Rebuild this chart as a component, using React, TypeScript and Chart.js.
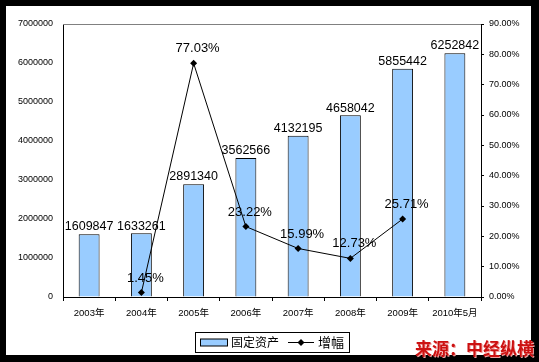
import { useEffect, useRef } from 'react';
import { Chart, registerables } from 'chart.js';
Chart.register(...registerables);

const categories = ['2003年', '2004年', '2005年', '2006年', '2007年', '2008年', '2009年', '2010年5月'];
const fixedAssets = [1609847, 1633261, 2891340, 3562566, 4132195, 4658042, 5855442, 6252842];
const growthPct = [null, 1.45, 77.03, 23.22, 15.99, 12.73, 25.71, null];
const leftMax = 7000000;
const leftStep = 1000000;
const rightMax = 90;
const rightStep = 10;
const seriesNames = ['固定资产', '增幅'];
const sourceText = '来源：中经纵横';

const FONT = '"Liberation Sans", Arial, "Noto Sans CJK SC", sans-serif';
const CJK = '"Noto Sans CJK SC", "Liberation Sans", sans-serif';
const BAR_FILL = '#99CCFF';

const framePlugin = {
  id: 'frame',
  beforeDraw(chart: any) {
    const { ctx, width, height } = chart;
    ctx.save();
    ctx.fillStyle = '#000';
    ctx.fillRect(0, 0, width, height);
    ctx.fillStyle = '#fff';
    ctx.fillRect(6, 6, 525, 349);
    ctx.restore();
  },
  afterDraw(chart: any) {
    const { ctx, chartArea } = chart;
    ctx.save();
    ctx.strokeStyle = '#808080';
    ctx.lineWidth = 1;
    ctx.beginPath();
    ctx.moveTo(chartArea.left, chartArea.top + 0.5);
    ctx.lineTo(chartArea.right, chartArea.top + 0.5);
    ctx.stroke();

    const lx = 195.5, ly = 332.5, lw = 154, lh = 20;
    ctx.fillStyle = '#fff';
    ctx.fillRect(lx, ly, lw, lh);
    ctx.strokeStyle = '#000';
    ctx.strokeRect(lx, ly, lw, lh);
    const cy = ly + lh / 2;
    ctx.fillStyle = BAR_FILL;
    ctx.fillRect(200.5, cy - 3.5, 27, 7);
    ctx.strokeRect(200.5, cy - 3.5, 27, 7);
    ctx.fillStyle = '#000';
    ctx.font = '12px ' + CJK;
    ctx.textBaseline = 'middle';
    ctx.textAlign = 'left';
    ctx.fillText(seriesNames[0], 231, cy);
    ctx.beginPath();
    ctx.moveTo(288, cy);
    ctx.lineTo(314, cy);
    ctx.stroke();
    ctx.beginPath();
    ctx.moveTo(301, cy - 3.5);
    ctx.lineTo(304.5, cy);
    ctx.lineTo(301, cy + 3.5);
    ctx.lineTo(297.5, cy);
    ctx.closePath();
    ctx.fill();
    ctx.font = '13px ' + CJK;
    ctx.fillText(seriesNames[1], 318, cy);

    ctx.font = 'bold 17px ' + CJK;
    ctx.textAlign = 'left';
    ctx.fillStyle = '#f0a0a0';
    ctx.fillText(sourceText, 416, 350);
    ctx.fillStyle = '#cc1111';
    ctx.fillText(sourceText, 415, 349);
    ctx.restore();
  },
};

const labelPlugin = {
  id: 'valueLabels',
  afterDatasetsDraw(chart: any) {
    const { ctx } = chart;
    ctx.save();
    ctx.fillStyle = '#000';
    ctx.textAlign = 'center';
    ctx.textBaseline = 'bottom';
    chart.data.datasets.forEach((ds: any, di: number) => {
      const meta = chart.getDatasetMeta(di);
      meta.data.forEach((el: any, i: number) => {
        const v = ds.data[i];
        if (v === null || v === undefined) return;
        if (ds.type === 'bar') {
          ctx.font = '12.5px ' + FONT;
          ctx.fillText(String(v), el.x, el.y - 1);
        } else {
          ctx.font = '13px ' + FONT;
          ctx.fillText(v.toFixed(2) + '%', el.x + 4, el.y - 8);
        }
      });
    });
    ctx.restore();
  },
};

export default function App() {
  const ref = useRef<HTMLCanvasElement>(null);
  useEffect(() => {
    document.body.style.margin = '0';
    const canvas = ref.current!;
    const chart = new Chart(canvas, {
      data: {
        labels: categories,
        datasets: [
          {
            type: 'line',
            label: seriesNames[1],
            data: growthPct,
            yAxisID: 'y1',
            borderColor: '#000',
            backgroundColor: '#000',
            borderWidth: 1,
            pointStyle: 'rectRot',
            pointRadius: 3.5,
            pointBorderWidth: 0,
            tension: 0,
            spanGaps: false,
            order: 0,
          } as any,
          {
            type: 'bar',
            label: seriesNames[0],
            data: fixedAssets,
            yAxisID: 'y',
            backgroundColor: BAR_FILL,
            borderColor: '#000',
            borderWidth: 1,
            barPercentage: 0.4,
            categoryPercentage: 1,
            order: 1,
          } as any,
        ],
      },
      options: {
        responsive: false,
        animation: false,
        layout: { padding: { top: 24, left: 0, right: 0, bottom: 0 } },
        plugins: { legend: { display: false }, tooltip: { enabled: false } },
        scales: {
          x: {
            grid: { offset: true, drawOnChartArea: false, tickLength: 4, color: '#000' },
            border: { color: '#000', width: 1 },
            ticks: { color: '#000', font: { size: 9.5, family: FONT }, padding: 7, maxRotation: 0, autoSkip: false },
            afterFit: (s: any) => { s.height = 65; },
          },
          y: {
            position: 'left',
            min: 0,
            max: leftMax,
            grid: { drawOnChartArea: false, drawTicks: false },
            border: { color: '#000', width: 1 },
            ticks: { stepSize: leftStep, color: '#000', font: { size: 9, family: FONT }, padding: 10, callback: (v: any) => String(v) },
            afterFit: (s: any) => { s.width = 63; },
          },
          y1: {
            position: 'right',
            min: 0,
            max: rightMax,
            grid: { drawOnChartArea: false, tickLength: 3, color: '#000' },
            border: { color: '#000', width: 1 },
            ticks: { stepSize: rightStep, color: '#000', font: { size: 9, family: FONT }, padding: 5, callback: (v: any) => Number(v).toFixed(2) + '%' },
            afterFit: (s: any) => { s.width = 58; },
          },
        },
      } as any,
      plugins: [framePlugin, labelPlugin],
    });
    return () => chart.destroy();
  }, []);
  return <canvas ref={ref} width={539} height={362} style={{ display: 'block', width: 539, height: 362 }} />;
}
